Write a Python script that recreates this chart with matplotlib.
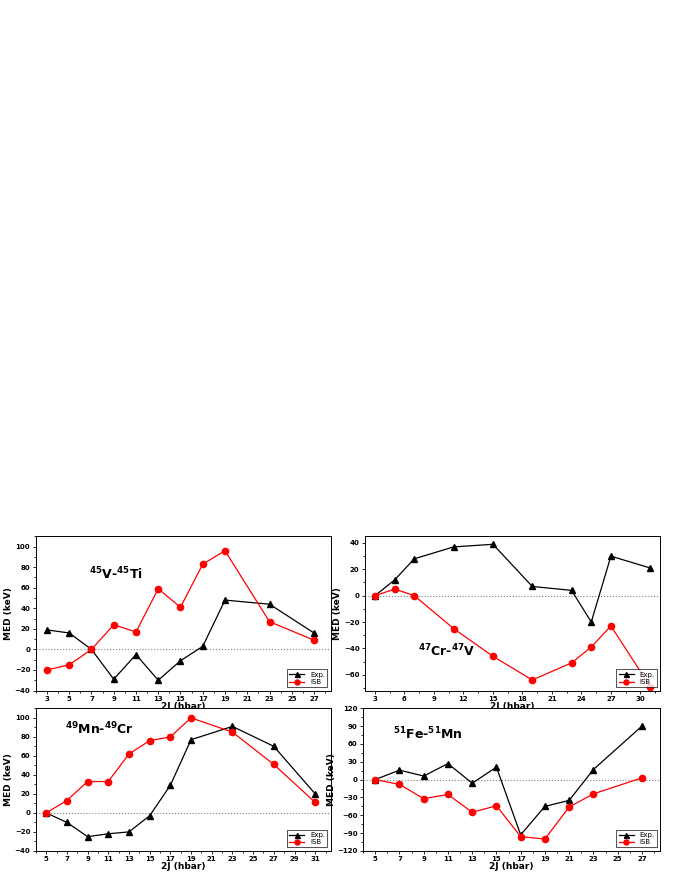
import matplotlib
matplotlib.use("Agg")
import matplotlib.pyplot as plt
from matplotlib.ticker import AutoMinorLocator

x1 = [3, 5, 7, 9, 11, 13, 15, 17, 19, 23, 27]
exp1 = [19, 16, 0, -29, -5, -30, -11, 3, 48, 44, 16]
isb1 = [-20, -15, 0, 24, 17, 59, 41, 83, 96, 27, 9]

x2 = [3, 5, 7, 11, 15, 19, 23, 25, 27, 31]
exp2 = [0, 12, 28, 37, 39, 7, 4, -20, 30, 21]
isb2 = [0, 5, 0, -25, -46, -64, -51, -39, -23, -69]

x3 = [5, 7, 9, 11, 13, 15, 17, 19, 23, 27, 31]
exp3 = [0, -10, -25, -22, -20, -3, 29, 77, 91, 70, 20]
isb3 = [0, 13, 33, 33, 62, 76, 80, 100, 85, 51, 11]

x4 = [5, 7, 9, 11, 13, 15, 17, 19, 21, 23, 27]
exp4 = [0, 16, 6, 27, -6, 21, -93, -45, -35, 17, 90]
isb4 = [0, -8, -32, -25, -55, -44, -96, -100, -46, -24, 3]

fig = plt.figure(figsize=(6.89, 8.91), dpi=100)

panels = [
    ([0.052, 0.225, 0.428, 0.173], x1, exp1, isb1, r"$^{\mathbf{45}}$V-$^{\mathbf{45}}$Ti", (0.18, 0.72),
     (2, 28.5), range(3, 28, 2), (-40, 110), range(-40, 101, 20)),
    ([0.530, 0.225, 0.428, 0.173], x2, exp2, isb2, r"$^{\mathbf{47}}$Cr-$^{\mathbf{47}}$V", (0.18, 0.22),
     (2, 32), range(3, 31, 3), (-72, 45), range(-60, 41, 20)),
    ([0.052, 0.045, 0.428, 0.160], x3, exp3, isb3, r"$^{\mathbf{49}}$Mn-$^{\mathbf{49}}$Cr", (0.1, 0.82),
     (4, 32.5), range(5, 32, 2), (-40, 110), range(-40, 101, 20)),
    ([0.527, 0.045, 0.431, 0.160], x4, exp4, isb4, r"$^{\mathbf{51}}$Fe-$^{\mathbf{51}}$Mn", (0.1, 0.78),
     (4, 28.5), range(5, 28, 2), (-120, 120), range(-120, 121, 30)),
]

for rect, x, e, s, title, tpos, xl, xt, yl, yt in panels:
    ax = fig.add_axes(rect)
    ax.axhline(0, color="gray", ls=":", lw=0.8)
    ax.plot(x, e, "-^", color="black", lw=0.9, ms=4.5, label="Exp.")
    ax.plot(x, s, "-o", color="red", lw=0.9, ms=4.5, label="ISB")
    ax.set_xlim(*xl)
    ax.set_ylim(*yl)
    ax.set_xticks(list(xt))
    ax.set_yticks(list(yt))
    ax.xaxis.set_minor_locator(AutoMinorLocator(2))
    ax.yaxis.set_minor_locator(AutoMinorLocator(2))
    ax.tick_params(labelsize=5, length=2.5, width=0.6, pad=1.5)
    ax.tick_params(which="minor", length=1.5)
    for lab in ax.get_xticklabels() + ax.get_yticklabels():
        lab.set_fontweight("bold")
    ax.set_xlabel("2J (hbar)", fontsize=6.5, fontweight="bold", labelpad=0)
    ax.set_ylabel("MED (keV)", fontsize=6.5, fontweight="bold", labelpad=1)
    ax.text(tpos[0], tpos[1], title, transform=ax.transAxes, fontsize=9, fontweight="bold")
    leg = ax.legend(loc="lower right", fontsize=5, fancybox=False, edgecolor="black",
                    handlelength=2.2, borderpad=0.3, labelspacing=0.2, markerscale=0.8)
    leg.get_frame().set_linewidth(0.6)
    for sp in ax.spines.values():
        sp.set_linewidth(0.7)

fig.savefig("out.png", dpi=100)
